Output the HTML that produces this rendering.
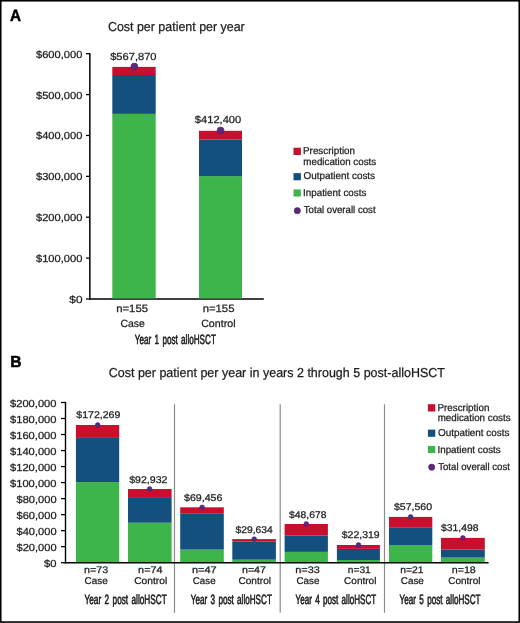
<!DOCTYPE html>
<html><head><meta charset="utf-8"><style>
html,body{margin:0;padding:0;background:#fff;}
body{width:520px;height:623px;overflow:hidden;}
svg{display:block;font-family:"Liberation Sans", sans-serif;will-change:transform;text-rendering:geometricPrecision;}
</style></head><body>
<svg width="520" height="623" viewBox="0 0 520 623">
<rect x="0" y="0" width="520" height="623" fill="#fff"/>
<line x1="86.00" y1="299.00" x2="89.90" y2="299.00" stroke="#000" stroke-width="1.3"/>
<line x1="86.00" y1="258.12" x2="89.90" y2="258.12" stroke="#000" stroke-width="1.3"/>
<line x1="86.00" y1="217.23" x2="89.90" y2="217.23" stroke="#000" stroke-width="1.3"/>
<line x1="86.00" y1="176.35" x2="89.90" y2="176.35" stroke="#000" stroke-width="1.3"/>
<line x1="86.00" y1="135.47" x2="89.90" y2="135.47" stroke="#000" stroke-width="1.3"/>
<line x1="86.00" y1="94.58" x2="89.90" y2="94.58" stroke="#000" stroke-width="1.3"/>
<line x1="86.00" y1="53.70" x2="89.90" y2="53.70" stroke="#000" stroke-width="1.3"/>
<line x1="89.85" y1="53.05" x2="89.85" y2="299.70" stroke="#000" stroke-width="1.5"/>
<line x1="89.10" y1="299.00" x2="263.80" y2="299.00" stroke="#000" stroke-width="1.6"/>
<rect x="112.30" y="113.90" width="43.40" height="184.50" fill="#3db54a"/>
<rect x="112.30" y="75.00" width="43.40" height="38.90" fill="#13507f"/>
<rect x="112.30" y="66.90" width="43.40" height="8.10" fill="#c8102e"/>
<circle cx="134.40" cy="66.55" r="3.45" fill="#5b2a7b" stroke="#461a66" stroke-width="0.5"/>
<rect x="199.00" y="176.10" width="43.00" height="122.30" fill="#3db54a"/>
<rect x="199.00" y="139.60" width="43.00" height="36.50" fill="#13507f"/>
<rect x="199.00" y="130.80" width="43.00" height="8.80" fill="#c8102e"/>
<circle cx="220.60" cy="130.45" r="3.45" fill="#5b2a7b" stroke="#461a66" stroke-width="0.5"/>
<rect x="293.50" y="147.70" width="7.40" height="7.30" fill="#c8102e"/>
<rect x="293.50" y="173.10" width="7.40" height="7.20" fill="#13507f"/>
<rect x="293.50" y="189.40" width="7.40" height="7.10" fill="#3db54a"/>
<circle cx="297.30" cy="210.70" r="3.15" fill="#5b2a7b" stroke="#461a66" stroke-width="0.5"/>
<line x1="61.00" y1="562.70" x2="65.50" y2="562.70" stroke="#000" stroke-width="1.3"/>
<line x1="61.00" y1="546.68" x2="65.50" y2="546.68" stroke="#000" stroke-width="1.3"/>
<line x1="61.00" y1="530.66" x2="65.50" y2="530.66" stroke="#000" stroke-width="1.3"/>
<line x1="61.00" y1="514.64" x2="65.50" y2="514.64" stroke="#000" stroke-width="1.3"/>
<line x1="61.00" y1="498.62" x2="65.50" y2="498.62" stroke="#000" stroke-width="1.3"/>
<line x1="61.00" y1="482.60" x2="65.50" y2="482.60" stroke="#000" stroke-width="1.3"/>
<line x1="61.00" y1="466.58" x2="65.50" y2="466.58" stroke="#000" stroke-width="1.3"/>
<line x1="61.00" y1="450.56" x2="65.50" y2="450.56" stroke="#000" stroke-width="1.3"/>
<line x1="61.00" y1="434.54" x2="65.50" y2="434.54" stroke="#000" stroke-width="1.3"/>
<line x1="61.00" y1="418.52" x2="65.50" y2="418.52" stroke="#000" stroke-width="1.3"/>
<line x1="61.00" y1="402.50" x2="65.50" y2="402.50" stroke="#000" stroke-width="1.3"/>
<line x1="65.50" y1="401.85" x2="65.50" y2="563.40" stroke="#000" stroke-width="1.4"/>
<line x1="174.50" y1="404.30" x2="174.50" y2="612.80" stroke="#8c8c8c" stroke-width="1.2"/>
<line x1="280.20" y1="404.30" x2="280.20" y2="612.80" stroke="#8c8c8c" stroke-width="1.2"/>
<line x1="384.50" y1="404.30" x2="384.50" y2="612.80" stroke="#8c8c8c" stroke-width="1.2"/>
<line x1="64.80" y1="562.75" x2="488.60" y2="562.75" stroke="#000" stroke-width="1.7"/>
<rect x="75.90" y="482.10" width="43.30" height="80.00" fill="#3db54a"/>
<rect x="75.90" y="437.90" width="43.30" height="44.20" fill="#13507f"/>
<rect x="75.90" y="425.00" width="43.30" height="12.90" fill="#c8102e"/>
<circle cx="97.70" cy="425.00" r="2.4" fill="#5b2a7b" stroke="#461a66" stroke-width="0.5"/>
<rect x="128.00" y="522.70" width="43.60" height="39.40" fill="#3db54a"/>
<rect x="128.00" y="497.10" width="43.60" height="25.60" fill="#13507f"/>
<rect x="128.00" y="489.00" width="43.60" height="8.10" fill="#c8102e"/>
<circle cx="149.60" cy="489.00" r="2.4" fill="#5b2a7b" stroke="#461a66" stroke-width="0.5"/>
<rect x="180.20" y="549.60" width="43.60" height="12.50" fill="#3db54a"/>
<rect x="180.20" y="513.80" width="43.60" height="35.80" fill="#13507f"/>
<rect x="180.20" y="507.30" width="43.60" height="6.50" fill="#c8102e"/>
<circle cx="202.10" cy="507.30" r="2.4" fill="#5b2a7b" stroke="#461a66" stroke-width="0.5"/>
<rect x="232.30" y="559.70" width="43.60" height="2.40" fill="#3db54a"/>
<rect x="232.30" y="541.70" width="43.60" height="18.00" fill="#13507f"/>
<rect x="232.30" y="539.10" width="43.60" height="2.60" fill="#c8102e"/>
<circle cx="254.20" cy="539.10" r="2.4" fill="#5b2a7b" stroke="#461a66" stroke-width="0.5"/>
<rect x="284.60" y="551.90" width="43.30" height="10.20" fill="#3db54a"/>
<rect x="284.60" y="535.40" width="43.30" height="16.50" fill="#13507f"/>
<rect x="284.60" y="524.00" width="43.30" height="11.40" fill="#c8102e"/>
<circle cx="306.30" cy="524.00" r="2.4" fill="#5b2a7b" stroke="#461a66" stroke-width="0.5"/>
<rect x="336.90" y="560.00" width="43.00" height="2.10" fill="#3db54a"/>
<rect x="336.90" y="548.90" width="43.00" height="11.10" fill="#13507f"/>
<rect x="336.90" y="545.00" width="43.00" height="3.90" fill="#c8102e"/>
<circle cx="358.50" cy="545.00" r="2.4" fill="#5b2a7b" stroke="#461a66" stroke-width="0.5"/>
<rect x="389.00" y="545.10" width="43.30" height="17.00" fill="#3db54a"/>
<rect x="389.00" y="527.80" width="43.30" height="17.30" fill="#13507f"/>
<rect x="389.00" y="516.90" width="43.30" height="10.90" fill="#c8102e"/>
<circle cx="410.60" cy="516.90" r="2.4" fill="#5b2a7b" stroke="#461a66" stroke-width="0.5"/>
<rect x="441.00" y="557.60" width="43.80" height="4.50" fill="#3db54a"/>
<rect x="441.00" y="549.40" width="43.80" height="8.20" fill="#13507f"/>
<rect x="441.00" y="537.90" width="43.80" height="11.50" fill="#c8102e"/>
<circle cx="462.90" cy="537.90" r="2.4" fill="#5b2a7b" stroke="#461a66" stroke-width="0.5"/>
<rect x="427.90" y="404.20" width="7.40" height="7.30" fill="#c8102e"/>
<rect x="427.90" y="429.60" width="7.40" height="7.20" fill="#13507f"/>
<rect x="427.90" y="445.90" width="7.40" height="7.10" fill="#3db54a"/>
<circle cx="431.70" cy="467.20" r="3.15" fill="#5b2a7b" stroke="#461a66" stroke-width="0.5"/>
<text x="10.00" y="20.90" font-size="16.5" font-weight="bold" fill="#000" textLength="11.06" lengthAdjust="spacingAndGlyphs" stroke="#000" stroke-width="0.5">A</text>
<text x="107.92" y="30.70" font-size="13" font-weight="normal" fill="#1c1c1c" textLength="136.85" lengthAdjust="spacingAndGlyphs" stroke="#1c1c1c" stroke-width="0.25">Cost per patient per year</text>
<text x="69.30" y="303.00" font-size="10.2" font-weight="normal" fill="#1c1c1c" textLength="13.20" lengthAdjust="spacingAndGlyphs" stroke="#1c1c1c" stroke-width="0.25">$0</text>
<text x="36.00" y="262.12" font-size="10.2" font-weight="normal" fill="#1c1c1c" textLength="46.37" lengthAdjust="spacingAndGlyphs" stroke="#1c1c1c" stroke-width="0.25">$100,000</text>
<text x="36.00" y="221.23" font-size="10.2" font-weight="normal" fill="#1c1c1c" textLength="46.37" lengthAdjust="spacingAndGlyphs" stroke="#1c1c1c" stroke-width="0.25">$200,000</text>
<text x="36.00" y="180.35" font-size="10.2" font-weight="normal" fill="#1c1c1c" textLength="46.37" lengthAdjust="spacingAndGlyphs" stroke="#1c1c1c" stroke-width="0.25">$300,000</text>
<text x="36.00" y="139.47" font-size="10.2" font-weight="normal" fill="#1c1c1c" textLength="46.37" lengthAdjust="spacingAndGlyphs" stroke="#1c1c1c" stroke-width="0.25">$400,000</text>
<text x="36.00" y="98.58" font-size="10.2" font-weight="normal" fill="#1c1c1c" textLength="46.37" lengthAdjust="spacingAndGlyphs" stroke="#1c1c1c" stroke-width="0.25">$500,000</text>
<text x="36.00" y="57.70" font-size="10.2" font-weight="normal" fill="#1c1c1c" textLength="46.37" lengthAdjust="spacingAndGlyphs" stroke="#1c1c1c" stroke-width="0.25">$600,000</text>
<text x="110.20" y="60.00" font-size="10.2" font-weight="normal" fill="#1c1c1c" textLength="46.37" lengthAdjust="spacingAndGlyphs" stroke="#1c1c1c" stroke-width="0.25">$567,870</text>
<text x="194.80" y="122.60" font-size="10.2" font-weight="normal" fill="#1c1c1c" textLength="46.47" lengthAdjust="spacingAndGlyphs" stroke="#1c1c1c" stroke-width="0.25">$412,400</text>
<text x="116.16" y="311.70" font-size="10.6" font-weight="normal" fill="#1c1c1c" textLength="31.92" lengthAdjust="spacingAndGlyphs" stroke="#1c1c1c" stroke-width="0.25">n=155</text>
<text x="120.40" y="326.90" font-size="10.5" font-weight="normal" fill="#1c1c1c" textLength="24.46" lengthAdjust="spacingAndGlyphs" stroke="#1c1c1c" stroke-width="0.25">Case</text>
<text x="202.67" y="311.70" font-size="10.6" font-weight="normal" fill="#1c1c1c" textLength="31.82" lengthAdjust="spacingAndGlyphs" stroke="#1c1c1c" stroke-width="0.25">n=155</text>
<text x="201.19" y="326.90" font-size="10.5" font-weight="normal" fill="#1c1c1c" textLength="34.32" lengthAdjust="spacingAndGlyphs" stroke="#1c1c1c" stroke-width="0.25">Control</text>
<text x="134.75" y="344.30" font-size="13.4" font-weight="normal" fill="#1c1c1c" textLength="81.10" lengthAdjust="spacingAndGlyphs" stroke="#1c1c1c" stroke-width="0.62" word-spacing="1.8">Year 1 post alloHSCT</text>
<text x="303.06" y="154.20" font-size="10.0" font-weight="normal" fill="#1c1c1c" textLength="51.99" lengthAdjust="spacingAndGlyphs" stroke="#1c1c1c" stroke-width="0.25">Prescription</text>
<text x="303.31" y="164.60" font-size="10.0" font-weight="normal" fill="#1c1c1c" textLength="72.92" lengthAdjust="spacingAndGlyphs" stroke="#1c1c1c" stroke-width="0.25">medication costs</text>
<text x="303.55" y="179.00" font-size="10.0" font-weight="normal" fill="#1c1c1c" textLength="71.51" lengthAdjust="spacingAndGlyphs" stroke="#1c1c1c" stroke-width="0.25">Outpatient costs</text>
<text x="303.06" y="196.00" font-size="10.0" font-weight="normal" fill="#1c1c1c" textLength="63.27" lengthAdjust="spacingAndGlyphs" stroke="#1c1c1c" stroke-width="0.25">Inpatient costs</text>
<text x="303.80" y="213.30" font-size="10.0" font-weight="normal" fill="#1c1c1c" textLength="71.78" lengthAdjust="spacingAndGlyphs" stroke="#1c1c1c" stroke-width="0.25">Total overall cost</text>
<text x="10.17" y="366.90" font-size="16" font-weight="bold" fill="#000" textLength="11.28" lengthAdjust="spacingAndGlyphs" stroke="#000" stroke-width="0.5">B</text>
<text x="108.72" y="376.60" font-size="13" font-weight="normal" fill="#1c1c1c" textLength="336.21" lengthAdjust="spacingAndGlyphs" stroke="#1c1c1c" stroke-width="0.25">Cost per patient per year in years 2 through 5 post-alloHSCT</text>
<text x="44.10" y="567.00" font-size="10.2" font-weight="normal" fill="#1c1c1c" textLength="12.48" lengthAdjust="spacingAndGlyphs" stroke="#1c1c1c" stroke-width="0.25">$0</text>
<text x="16.50" y="550.98" font-size="10.2" font-weight="normal" fill="#1c1c1c" textLength="40.06" lengthAdjust="spacingAndGlyphs" stroke="#1c1c1c" stroke-width="0.25">$20,000</text>
<text x="16.50" y="534.96" font-size="10.2" font-weight="normal" fill="#1c1c1c" textLength="40.06" lengthAdjust="spacingAndGlyphs" stroke="#1c1c1c" stroke-width="0.25">$40,000</text>
<text x="16.50" y="518.94" font-size="10.2" font-weight="normal" fill="#1c1c1c" textLength="40.06" lengthAdjust="spacingAndGlyphs" stroke="#1c1c1c" stroke-width="0.25">$60,000</text>
<text x="16.50" y="502.92" font-size="10.2" font-weight="normal" fill="#1c1c1c" textLength="40.06" lengthAdjust="spacingAndGlyphs" stroke="#1c1c1c" stroke-width="0.25">$80,000</text>
<text x="10.00" y="486.90" font-size="10.2" font-weight="normal" fill="#1c1c1c" textLength="46.47" lengthAdjust="spacingAndGlyphs" stroke="#1c1c1c" stroke-width="0.25">$100,000</text>
<text x="10.00" y="470.88" font-size="10.2" font-weight="normal" fill="#1c1c1c" textLength="46.47" lengthAdjust="spacingAndGlyphs" stroke="#1c1c1c" stroke-width="0.25">$120,000</text>
<text x="10.00" y="454.86" font-size="10.2" font-weight="normal" fill="#1c1c1c" textLength="46.47" lengthAdjust="spacingAndGlyphs" stroke="#1c1c1c" stroke-width="0.25">$140,000</text>
<text x="10.00" y="438.84" font-size="10.2" font-weight="normal" fill="#1c1c1c" textLength="46.47" lengthAdjust="spacingAndGlyphs" stroke="#1c1c1c" stroke-width="0.25">$160,000</text>
<text x="10.00" y="422.82" font-size="10.2" font-weight="normal" fill="#1c1c1c" textLength="46.47" lengthAdjust="spacingAndGlyphs" stroke="#1c1c1c" stroke-width="0.25">$180,000</text>
<text x="10.00" y="406.80" font-size="10.2" font-weight="normal" fill="#1c1c1c" textLength="46.47" lengthAdjust="spacingAndGlyphs" stroke="#1c1c1c" stroke-width="0.25">$200,000</text>
<text x="76.30" y="418.10" font-size="9.7" font-weight="normal" fill="#1c1c1c" textLength="44.04" lengthAdjust="spacingAndGlyphs" stroke="#1c1c1c" stroke-width="0.25">$172,269</text>
<text x="129.20" y="482.50" font-size="9.7" font-weight="normal" fill="#1c1c1c" textLength="38.21" lengthAdjust="spacingAndGlyphs" stroke="#1c1c1c" stroke-width="0.25">$92,932</text>
<text x="184.00" y="500.80" font-size="9.7" font-weight="normal" fill="#1c1c1c" textLength="38.41" lengthAdjust="spacingAndGlyphs" stroke="#1c1c1c" stroke-width="0.25">$69,456</text>
<text x="235.50" y="532.80" font-size="9.7" font-weight="normal" fill="#1c1c1c" textLength="37.20" lengthAdjust="spacingAndGlyphs" stroke="#1c1c1c" stroke-width="0.25">$29,634</text>
<text x="289.00" y="517.90" font-size="9.7" font-weight="normal" fill="#1c1c1c" textLength="37.40" lengthAdjust="spacingAndGlyphs" stroke="#1c1c1c" stroke-width="0.25">$48,678</text>
<text x="341.80" y="537.80" font-size="9.7" font-weight="normal" fill="#1c1c1c" textLength="37.80" lengthAdjust="spacingAndGlyphs" stroke="#1c1c1c" stroke-width="0.25">$22,319</text>
<text x="394.00" y="510.30" font-size="9.7" font-weight="normal" fill="#1c1c1c" textLength="38.01" lengthAdjust="spacingAndGlyphs" stroke="#1c1c1c" stroke-width="0.25">$57,560</text>
<text x="441.00" y="531.00" font-size="9.7" font-weight="normal" fill="#1c1c1c" textLength="37.60" lengthAdjust="spacingAndGlyphs" stroke="#1c1c1c" stroke-width="0.25">$31,498</text>
<text x="84.04" y="572.70" font-size="9.6" font-weight="normal" fill="#1c1c1c" textLength="24.06" lengthAdjust="spacingAndGlyphs" stroke="#1c1c1c" stroke-width="0.25">n=73</text>
<text x="84.55" y="583.60" font-size="9.8" font-weight="normal" fill="#1c1c1c" textLength="23.13" lengthAdjust="spacingAndGlyphs" stroke="#1c1c1c" stroke-width="0.25">Case</text>
<text x="138.14" y="572.70" font-size="9.6" font-weight="normal" fill="#1c1c1c" textLength="24.39" lengthAdjust="spacingAndGlyphs" stroke="#1c1c1c" stroke-width="0.25">n=74</text>
<text x="134.24" y="583.60" font-size="9.8" font-weight="normal" fill="#1c1c1c" textLength="32.98" lengthAdjust="spacingAndGlyphs" stroke="#1c1c1c" stroke-width="0.25">Control</text>
<text x="191.93" y="572.70" font-size="9.6" font-weight="normal" fill="#1c1c1c" textLength="24.68" lengthAdjust="spacingAndGlyphs" stroke="#1c1c1c" stroke-width="0.25">n=47</text>
<text x="192.85" y="583.60" font-size="9.8" font-weight="normal" fill="#1c1c1c" textLength="22.72" lengthAdjust="spacingAndGlyphs" stroke="#1c1c1c" stroke-width="0.25">Case</text>
<text x="241.94" y="572.70" font-size="9.6" font-weight="normal" fill="#1c1c1c" textLength="24.06" lengthAdjust="spacingAndGlyphs" stroke="#1c1c1c" stroke-width="0.25">n=47</text>
<text x="238.44" y="583.60" font-size="9.8" font-weight="normal" fill="#1c1c1c" textLength="32.57" lengthAdjust="spacingAndGlyphs" stroke="#1c1c1c" stroke-width="0.25">Control</text>
<text x="295.23" y="572.70" font-size="9.6" font-weight="normal" fill="#1c1c1c" textLength="24.58" lengthAdjust="spacingAndGlyphs" stroke="#1c1c1c" stroke-width="0.25">n=33</text>
<text x="296.45" y="583.60" font-size="9.8" font-weight="normal" fill="#1c1c1c" textLength="22.93" lengthAdjust="spacingAndGlyphs" stroke="#1c1c1c" stroke-width="0.25">Case</text>
<text x="347.77" y="572.70" font-size="9.6" font-weight="normal" fill="#1c1c1c" textLength="23.02" lengthAdjust="spacingAndGlyphs" stroke="#1c1c1c" stroke-width="0.25">n=31</text>
<text x="344.14" y="583.60" font-size="9.8" font-weight="normal" fill="#1c1c1c" textLength="32.26" lengthAdjust="spacingAndGlyphs" stroke="#1c1c1c" stroke-width="0.25">Control</text>
<text x="400.26" y="572.70" font-size="9.6" font-weight="normal" fill="#1c1c1c" textLength="23.22" lengthAdjust="spacingAndGlyphs" stroke="#1c1c1c" stroke-width="0.25">n=21</text>
<text x="400.75" y="583.60" font-size="9.8" font-weight="normal" fill="#1c1c1c" textLength="23.13" lengthAdjust="spacingAndGlyphs" stroke="#1c1c1c" stroke-width="0.25">Case</text>
<text x="451.74" y="572.70" font-size="9.6" font-weight="normal" fill="#1c1c1c" textLength="24.06" lengthAdjust="spacingAndGlyphs" stroke="#1c1c1c" stroke-width="0.25">n=18</text>
<text x="448.25" y="583.60" font-size="9.8" font-weight="normal" fill="#1c1c1c" textLength="32.16" lengthAdjust="spacingAndGlyphs" stroke="#1c1c1c" stroke-width="0.25">Control</text>
<text x="84.55" y="604.40" font-size="13.4" font-weight="normal" fill="#1c1c1c" textLength="82.20" lengthAdjust="spacingAndGlyphs" stroke="#1c1c1c" stroke-width="0.62" word-spacing="1.8">Year 2 post alloHSCT</text>
<text x="190.75" y="604.40" font-size="13.4" font-weight="normal" fill="#1c1c1c" textLength="81.10" lengthAdjust="spacingAndGlyphs" stroke="#1c1c1c" stroke-width="0.62" word-spacing="1.8">Year 3 post alloHSCT</text>
<text x="295.55" y="604.40" font-size="13.4" font-weight="normal" fill="#1c1c1c" textLength="80.60" lengthAdjust="spacingAndGlyphs" stroke="#1c1c1c" stroke-width="0.62" word-spacing="1.8">Year 4 post alloHSCT</text>
<text x="399.55" y="604.40" font-size="13.4" font-weight="normal" fill="#1c1c1c" textLength="81.00" lengthAdjust="spacingAndGlyphs" stroke="#1c1c1c" stroke-width="0.62" word-spacing="1.8">Year 5 post alloHSCT</text>
<text x="437.46" y="410.70" font-size="10.0" font-weight="normal" fill="#1c1c1c" textLength="51.99" lengthAdjust="spacingAndGlyphs" stroke="#1c1c1c" stroke-width="0.25">Prescription</text>
<text x="437.71" y="421.10" font-size="10.0" font-weight="normal" fill="#1c1c1c" textLength="72.92" lengthAdjust="spacingAndGlyphs" stroke="#1c1c1c" stroke-width="0.25">medication costs</text>
<text x="437.95" y="435.50" font-size="10.0" font-weight="normal" fill="#1c1c1c" textLength="71.51" lengthAdjust="spacingAndGlyphs" stroke="#1c1c1c" stroke-width="0.25">Outpatient costs</text>
<text x="437.46" y="452.50" font-size="10.0" font-weight="normal" fill="#1c1c1c" textLength="63.27" lengthAdjust="spacingAndGlyphs" stroke="#1c1c1c" stroke-width="0.25">Inpatient costs</text>
<text x="438.20" y="469.80" font-size="10.0" font-weight="normal" fill="#1c1c1c" textLength="71.78" lengthAdjust="spacingAndGlyphs" stroke="#1c1c1c" stroke-width="0.25">Total overall cost</text>
<rect x="0.75" y="0.75" width="518.5" height="621.3" fill="none" stroke="#000" stroke-width="1.6"/>
</svg>
</body></html>
